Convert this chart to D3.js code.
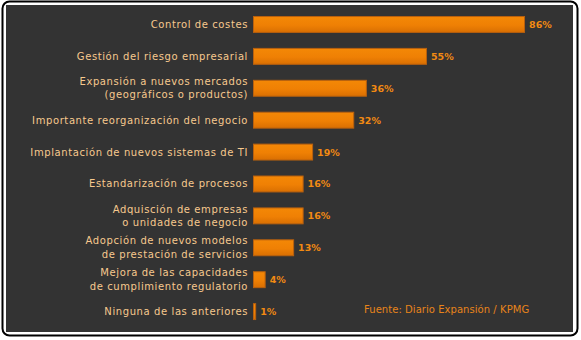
<!DOCTYPE html>
<html>
<head>
<meta charset="utf-8">
<script src="https://cdn.jsdelivr.net/npm/d3@7"></script>
<style>
  html, body { margin: 0; padding: 0; background: #fff; }
  svg { display: block; }
  text { font-family: "DejaVu Sans", Verdana, sans-serif; }
</style>
</head>
<body>
<svg id="chart" width="581" height="340"></svg>
<script>
// Categories (each entry is an array of label lines)
const categories = [
  ["Control de costes"],
  ["Gestión del riesgo empresarial"],
  ["Expansión a nuevos mercados", "(geográficos o productos)"],
  ["Importante reorganización del negocio"],
  ["Implantación de nuevos sistemas de TI"],
  ["Estandarización de procesos"],
  ["Adquisción de empresas", "o unidades de negocio"],
  ["Adopción de nuevos modelos", "de prestación de servicios"],
  ["Mejora de las capacidades", "de cumplimiento regulatorio"],
  ["Ninguna de las anteriores"]
];
const values = [86, 55, 36, 32, 19, 16, 16, 13, 4, 1];
const sourceNote = "Fuente: Diario Expansión / KPMG";

const svg = d3.select("#chart");

// Frame: black rounded outline with a dark panel inside
svg.append("rect")
  .attr("x", 2.5).attr("y", 1.5).attr("width", 575).attr("height", 334)
  .attr("rx", 7).attr("ry", 7)
  .attr("fill", "#fff").attr("stroke", "#000").attr("stroke-width", 2);
svg.append("rect")
  .attr("x", 6).attr("y", 5).attr("width", 567).attr("height", 327)
  .attr("fill", "#333333");

// Bar gradient
const defs = svg.append("defs");
const grad = defs.append("linearGradient").attr("id", "barGrad")
  .attr("x1", 0).attr("y1", 0).attr("x2", 0).attr("y2", 1);
grad.append("stop").attr("offset", "0%").attr("stop-color", "#f48806");
grad.append("stop").attr("offset", "55%").attr("stop-color", "#ef8004");
grad.append("stop").attr("offset", "100%").attr("stop-color", "#d96f02");

const idx = categories.map((_, i) => i);

const x = d3.scaleLinear().domain([0, 100]).range([253, 569.3]);
const y = d3.scaleBand().domain(idx).range([7.55, 328.5])
  .paddingInner(0.47).paddingOuter(0.265);

const rows = svg.append("g").selectAll("g")
  .data(idx).join("g");

// Bars
rows.append("rect")
  .attr("x", x(0) + 0.5)
  .attr("y", i => y(i) + 0.5)
  .attr("width", i => Math.max(1, x(values[i]) - x(0) - 1))
  .attr("height", y.bandwidth() - 1)
  .attr("fill", "url(#barGrad)")
  .attr("stroke", "#b8600e")
  .attr("stroke-width", 1);

// Value labels
rows.append("text")
  .attr("x", i => x(values[i]) + 4)
  .attr("y", i => y(i) + y.bandwidth() / 2 + 3.5)
  .attr("fill", "#f28a12")
  .attr("font-size", "9.5px")
  .attr("font-weight", "bold")
  .text(i => values[i] + "%");

// Category labels
rows.append("text")
  .attr("text-anchor", "end")
  .attr("fill", "#f7c98e")
  .attr("font-size", "10px")
  .attr("letter-spacing", "0.6px")
  .each(function (i) {
    const lines = categories[i];
    const c = y(i) + y.bandwidth() / 2;
    const t = d3.select(this);
    lines.forEach((line, k) => {
      const base = lines.length === 1 ? c + 3.5 : c - 3.3 + k * 13.3;
      t.append("tspan").attr("x", 248).attr("y", base).text(line);
    });
  });

// Source note
svg.append("text")
  .attr("x", 364).attr("y", 312.5)
  .attr("fill", "#e8841a")
  .attr("font-size", "10px")
  .attr("letter-spacing", "0.05px")
  .text(sourceNote);
</script>
</body>
</html>
